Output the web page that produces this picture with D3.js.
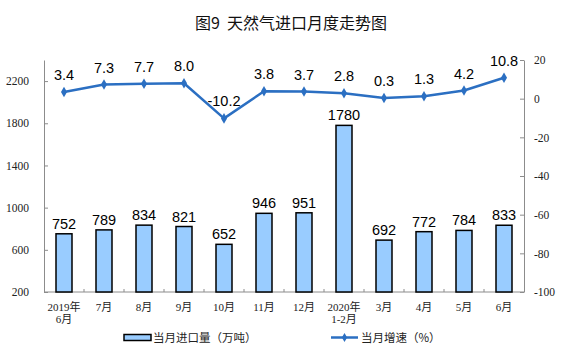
<!DOCTYPE html>
<html><head><meta charset="utf-8">
<script src="https://cdn.jsdelivr.net/npm/d3@7"></script>
<style>
html,body{margin:0;padding:0;background:#fff;}
svg{display:block;}
</style></head>
<body>
<svg id="c" width="561" height="357"></svg>
<script>
const categories = ["2019年\n6月","7月","8月","9月","10月","11月","12月","2020年\n1-2月","3月","4月","5月","6月"];
const importVolume = [752,789,834,821,652,946,951,1780,692,772,784,833];
const growthRate = [3.4,7.3,7.7,8.0,-10.2,3.8,3.7,2.8,0.3,1.3,4.2,10.8];
const leftTicks = [200,600,1000,1400,1800,2200];
const rightTicks = [-100,-80,-60,-40,-20,0,20];
const titleText = "图9  天然气进口月度走势图";
const legendBar = "当月进口量（万吨）";
const legendLine = "当月增速（%）";

const svg = d3.select("#c");
const axisColor = "#8c8c8c";
const lineColor = "#2b6fc2";
const barFill = "#99ccff";
const cjk = "'Noto Sans CJK SC', sans-serif";
const serif = "'Liberation Serif', 'Noto Sans CJK SC', serif";
const sans = "'Liberation Sans', Arial, sans-serif";

const x = d3.scaleBand().domain(categories).range([44,524]).paddingInner(0.6).paddingOuter(0.3);
const yL = d3.scaleLinear().domain([200,2400]).range([292,60]);
const yR = d3.scaleLinear().domain([-100,20]).range([292,60]);
const cx = c => x(c) + x.bandwidth()/2;

// title
svg.append("text").attr("x",291).attr("y",29).attr("text-anchor","middle")
  .style("font-family",cjk).style("font-size","16px").style("fill","#111").style("white-space","pre")
  .text(titleText);

// left axis
const gL = svg.append("g").attr("transform","translate(44,0)")
  .call(d3.axisLeft(yL).tickValues(leftTicks).tickFormat(d=>String(d)).tickSizeInner(-4).tickSizeOuter(0).tickPadding(15));
// right axis
const gR = svg.append("g").attr("transform","translate(524,0)")
  .call(d3.axisRight(yR).tickValues(rightTicks).tickFormat(d=>String(d)).tickSizeInner(-4).tickSizeOuter(0).tickPadding(10));
[gL,gR].forEach(g=>{
  g.select(".domain").attr("stroke",axisColor);
  g.selectAll(".tick line").attr("stroke",axisColor);
  g.selectAll(".tick text").style("font-family",serif).style("font-size","11.5px").attr("fill","#222");
});

// x axis line and band ticks
svg.append("line").attr("x1",44).attr("x2",524).attr("y1",292).attr("y2",292).attr("stroke",axisColor);
svg.append("g").selectAll("line").data(d3.range(1,categories.length)).join("line")
  .attr("x1",i=>44+x.step()*i).attr("x2",i=>44+x.step()*i)
  .attr("y1",292).attr("y2",289).attr("stroke",axisColor);

// x labels
const xl = svg.append("g").selectAll("text").data(categories).join("text")
  .attr("x",d=>cx(d)).attr("y",311).attr("text-anchor","middle")
  .style("font-family",serif).style("font-size","11px").attr("fill","#222");
xl.each(function(d){
  const parts = d.split("\n");
  d3.select(this).selectAll("tspan").data(parts).join("tspan")
    .attr("x",cx(d)).attr("dy",(p,i)=>i===0?0:12).text(p=>p);
});

// bars
svg.append("g").selectAll("rect").data(importVolume).join("rect")
  .attr("x",(d,i)=>x(categories[i])).attr("width",x.bandwidth())
  .attr("y",d=>yL(d)).attr("height",d=>yL(200)-yL(d))
  .attr("fill",barFill).attr("stroke","#000").attr("stroke-width",1.5);
svg.append("g").selectAll("text").data(importVolume).join("text")
  .attr("x",(d,i)=>cx(categories[i])).attr("y",d=>yL(d)-5).attr("text-anchor","middle")
  .style("font-family",sans).style("font-size","14.5px").attr("fill","#000").text(d=>d);

// line
const line = d3.line().x((d,i)=>cx(categories[i])).y(d=>yR(d));
svg.append("path").datum(growthRate).attr("d",line).attr("fill","none")
  .attr("stroke",lineColor).attr("stroke-width",2.5).attr("stroke-linejoin","round");
const diamond = d3.symbol().type(d3.symbolDiamond).size(32);
svg.append("g").selectAll("path").data(growthRate).join("path")
  .attr("d",diamond).attr("transform",(d,i)=>`translate(${cx(categories[i])},${yR(d)})`)
  .attr("fill",lineColor);
svg.append("g").selectAll("text").data(growthRate).join("text")
  .attr("x",(d,i)=>cx(categories[i])).attr("y",d=>yR(d)-12).attr("text-anchor","middle")
  .style("font-family",sans).style("font-size","14.5px").attr("fill","#000").text(d=>d.toFixed(1));

// legend
svg.append("rect").attr("x",124).attr("y",334.5).attr("width",27).attr("height",6)
  .attr("fill",barFill).attr("stroke","#000").attr("stroke-width",1.5);
svg.append("text").attr("x",153).attr("y",341.5)
  .style("font-family",cjk).style("font-size","11.5px").attr("fill","#222").text(legendBar);
svg.append("line").attr("x1",331).attr("x2",358).attr("y1",337.5).attr("y2",337.5)
  .attr("stroke",lineColor).attr("stroke-width",2.5);
svg.append("path").attr("d",d3.symbol().type(d3.symbolDiamond).size(24)())
  .attr("transform","translate(344.5,337.5)").attr("fill",lineColor);
svg.append("text").attr("x",361).attr("y",341.5)
  .style("font-family",cjk).style("font-size","11.5px").attr("fill","#222").text(legendLine);
</script>
</body></html>
